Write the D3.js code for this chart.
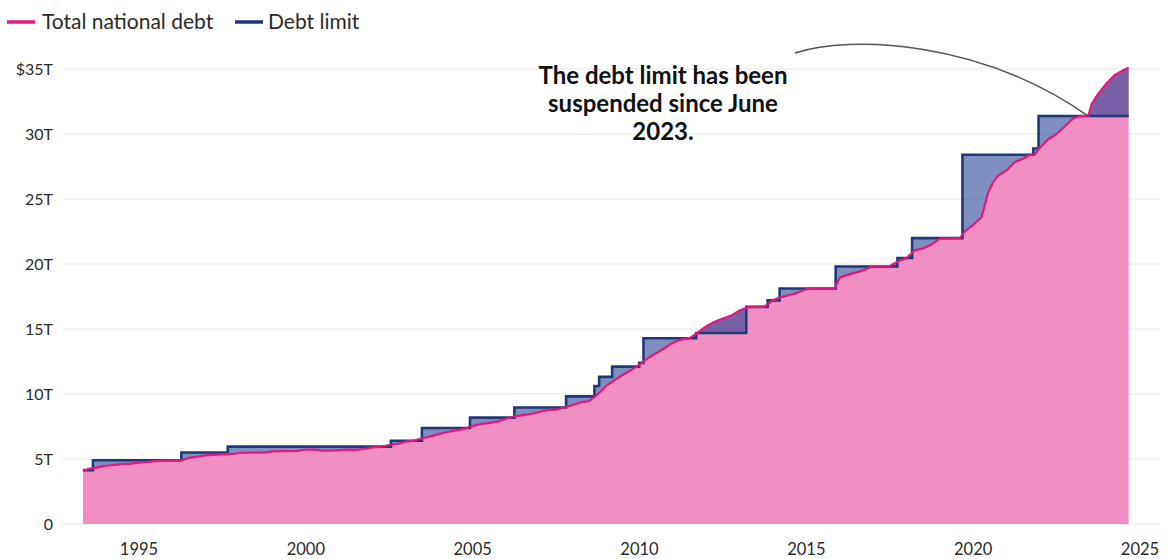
<!DOCTYPE html>
<html>
<head>
<meta charset="utf-8">
<script src="https://cdn.jsdelivr.net/npm/d3@7"></script>
<style>
  html, body { margin: 0; padding: 0; background: #fff; }
  svg text { font-family: Lato, "Open Sans", sans-serif; }
</style>
</head>
<body>
<svg id="chart" width="1170" height="559"></svg>
<script>
// Total national debt, trillions of dollars (decimal year)
const debtYears = [
  1993.32, 1993.5, 1993.75, 1994.0, 1994.25, 1994.5, 1994.75, 1995.0, 1995.25, 1995.5, 1995.75,
  1996.0, 1996.25, 1996.5, 1996.75, 1997.0, 1997.25, 1997.5, 1997.75, 1998.0, 1998.25, 1998.5,
  1998.75, 1999.0, 1999.25, 1999.5, 1999.75, 2000.0, 2000.25, 2000.5, 2000.75, 2001.0, 2001.25,
  2001.5, 2001.75, 2002.0, 2002.25, 2002.5, 2002.75, 2003.0, 2003.25, 2003.5, 2003.75, 2004.0,
  2004.25, 2004.5, 2004.75, 2005.0, 2005.25, 2005.5, 2005.75, 2006.0, 2006.25, 2006.5, 2006.75,
  2007.0, 2007.25, 2007.5, 2007.75, 2008.0, 2008.25, 2008.5, 2008.75, 2009.0, 2009.25, 2009.5,
  2009.75, 2010.0, 2010.25, 2010.5, 2010.75, 2011.0, 2011.25, 2011.5, 2011.75, 2012.0, 2012.25,
  2012.5, 2012.75, 2013.0, 2013.25, 2013.5, 2013.75, 2014.0, 2014.25, 2014.5, 2014.75, 2015.0,
  2015.25, 2015.5, 2015.85, 2016.0, 2016.25, 2016.5, 2016.75, 2017.0, 2017.25, 2017.5, 2017.75,
  2018.0, 2018.25, 2018.5, 2018.75, 2019.0, 2019.25, 2019.6, 2019.75, 2020.0, 2020.25, 2020.45,
  2020.6, 2020.75, 2021.0, 2021.25, 2021.5, 2021.7, 2021.85, 2022.0, 2022.25, 2022.5, 2022.75,
  2023.0, 2023.2, 2023.45, 2023.55, 2023.75, 2024.0, 2024.25, 2024.5, 2024.66
];
const debtValues = [
  4.05, 4.25, 4.36, 4.48, 4.54, 4.60, 4.65, 4.72, 4.78, 4.84, 4.87,
  4.88, 4.89, 5.08, 5.18, 5.28, 5.32, 5.35, 5.37, 5.46, 5.49, 5.50,
  5.49, 5.58, 5.61, 5.61, 5.62, 5.71, 5.72, 5.65, 5.64, 5.69, 5.72,
  5.70, 5.77, 5.90, 5.94, 6.08, 6.16, 6.33, 6.42, 6.60, 6.74, 6.93,
  7.08, 7.20, 7.32, 7.55, 7.68, 7.78, 7.88, 8.10, 8.28, 8.38, 8.46,
  8.62, 8.78, 8.80, 8.96, 9.16, 9.36, 9.46, 10.00, 10.62, 11.05, 11.48,
  11.84, 12.26, 12.75, 13.14, 13.52, 13.95, 14.20, 14.29, 14.74, 15.20, 15.56,
  15.80, 16.03, 16.42, 16.69, 16.70, 16.72, 17.22, 17.45, 17.62, 17.80, 18.05,
  18.11, 18.11, 18.15, 18.95, 19.18, 19.36, 19.55, 19.84, 19.84, 19.84, 20.20,
  20.45, 21.05, 21.20, 21.50, 21.95, 21.97, 21.98, 22.50, 23.00, 23.60, 25.50,
  26.30, 26.80, 27.20, 27.85, 28.10, 28.39, 28.43, 28.95, 29.60, 30.00, 30.60,
  31.20, 31.38, 31.39, 32.30, 33.10, 33.90, 34.55, 34.90, 35.10
];

// Statutory debt limit, trillions of dollars (level from that date on)
const limitYears = [
  1993.32, 1993.62, 1996.27, 1997.66, 2002.55, 2003.48, 2004.92, 2006.25, 2007.8, 2008.65,
  2008.79, 2009.18, 2009.99, 2010.12, 2011.7, 2013.2, 2013.84, 2014.2, 2015.88, 2017.73,
  2018.17, 2019.68, 2021.8, 2021.96
];
const limitValues = [
  4.145, 4.9, 5.5, 5.95, 6.4, 7.384, 8.184, 8.965, 9.815, 10.615,
  11.315, 12.104, 12.394, 14.294, 14.694, 16.699, 17.2, 18.113, 19.809, 20.456,
  21.988, 28.401, 28.881, 31.381
];

const xTicks = [1995, 2000, 2005, 2010, 2015, 2020, 2025];
const yTicks = [0, 5, 10, 15, 20, 25, 30, 35];
const yTickLabels = ["0", "5T", "10T", "15T", "20T", "25T", "30T", "$35T"];

const legendLabels = ["Total national debt", "Debt limit"];
const annotationLines = ["The debt limit has been", "suspended since June", "2023."];
const suspensionDate = 2023.45;

const colors = {
  area: "#f28fc2",
  debt: "#e5177f",
  limit: "#1f3877",
  band: "rgb(38,66,148)",
  grid: "#e8e8e8",
  text: "#2a2a2a"
};

const svg = d3.select("#chart");

const x = d3.scaleLinear().domain([1995, 2025]).range([139, 1140]);
const y = d3.scaleLinear().domain([0, 35]).range([524, 69]);

// gridlines
svg.append("g")
  .selectAll("line")
  .data(yTicks)
  .join("line")
  .attr("x1", 63).attr("x2", 1160)
  .attr("y1", d => y(d)).attr("y2", d => y(d))
  .attr("stroke", colors.grid)
  .attr("stroke-width", 1);

// y labels
svg.append("g")
  .selectAll("text")
  .data(yTicks)
  .join("text")
  .attr("x", 53)
  .attr("y", d => y(d))
  .attr("dy", "0.35em")
  .attr("text-anchor", "end")
  .attr("font-size", 16)
  .attr("fill", colors.text)
  .text((d, i) => yTickLabels[i]);

// x labels
svg.append("g")
  .selectAll("text")
  .data(xTicks)
  .join("text")
  .attr("x", d => x(d))
  .attr("y", 549)
  .attr("dy", "0.35em")
  .attr("text-anchor", "middle")
  .attr("font-size", 16.5)
  .attr("fill", colors.text)
  .text(d => d);

// series
const debt = debtYears.map((t, i) => ({ t, v: debtValues[i] }));
const limits = limitYears.map((t, i) => ({ t, v: limitValues[i] }));
const bis = d3.bisector(d => d.t).right;

function debtAt(t) {
  const i = bis(debt, t);
  if (i <= 0) return debt[0].v;
  if (i >= debt.length) return debt[debt.length - 1].v;
  const a = debt[i - 1], b = debt[i];
  return a.v + (b.v - a.v) * (t - a.t) / (b.t - a.t);
}
function limitAt(t) {
  let v = limits[0].v;
  for (const s of limits) if (s.t <= t) v = s.v;
  return v;
}

const t0 = debtYears[0], t1 = debtYears[debtYears.length - 1];
const timeSet = new Set(debtYears);
limits.forEach(s => {
  if (s.t > t0 && s.t <= t1) { timeSet.add(s.t - 1e-4); timeSet.add(s.t); }
});
const times = [...timeSet].filter(t => t >= t0 && t <= t1).sort((a, b) => a - b);
const merged = times.map(t => ({ t, d: debtAt(t), l: limitAt(t) }));

// debt area
svg.append("path")
  .datum(merged)
  .attr("fill", colors.area)
  .attr("d", d3.area().x(d => x(d.t)).y0(y(0)).y1(d => y(d.d)));

// gap between debt and limit
svg.append("path")
  .datum(merged)
  .attr("fill", colors.band)
  .attr("fill-opacity", 0.6)
  .attr("d", d3.area().x(d => x(d.t)).y0(d => y(d.d)).y1(d => y(d.l)));

// limit line
svg.append("path")
  .datum(merged)
  .attr("fill", "none")
  .attr("stroke", colors.limit)
  .attr("stroke-width", 2.6)
  .attr("stroke-linejoin", "miter")
  .attr("d", d3.line().x(d => x(d.t)).y(d => y(d.l)));

// debt line
svg.append("path")
  .datum(merged)
  .attr("fill", "none")
  .attr("stroke", colors.debt)
  .attr("stroke-width", 2.2)
  .attr("stroke-linejoin", "round")
  .attr("d", d3.line().x(d => x(d.t)).y(d => y(d.d)));

// legend
const legend = svg.append("g");
const legendX = [7, 235];
const legendTextX = [42, 268];
const legendColors = [colors.debt, colors.limit];
legendLabels.forEach((lab, i) => {
  legend.append("line")
    .attr("x1", legendX[i]).attr("x2", legendX[i] + 28)
    .attr("y1", 22).attr("y2", 22)
    .attr("stroke", legendColors[i])
    .attr("stroke-width", 3.5);
  legend.append("text")
    .attr("x", legendTextX[i])
    .attr("y", 22)
    .attr("dy", "0.35em")
    .attr("font-size", 21)
    .attr("fill", colors.text)
    .text(lab);
});

// annotation
const ann = svg.append("g");
annotationLines.forEach((s, i) => {
  ann.append("text")
    .attr("x", 663)
    .attr("y", 76 + i * 28)
    .attr("dy", "0.35em")
    .attr("text-anchor", "middle")
    .attr("font-size", 24)
    .attr("font-weight", 700)
    .attr("fill", "#111")
    .text(s);
});
const ex = x(suspensionDate), ey = y(limitAt(suspensionDate));
ann.append("path")
  .attr("fill", "none")
  .attr("stroke", "#555")
  .attr("stroke-width", 1.6)
  .attr("d", `M795,53 C850,35 980,40 ${ex},${ey}`);
</script>
</body>
</html>
